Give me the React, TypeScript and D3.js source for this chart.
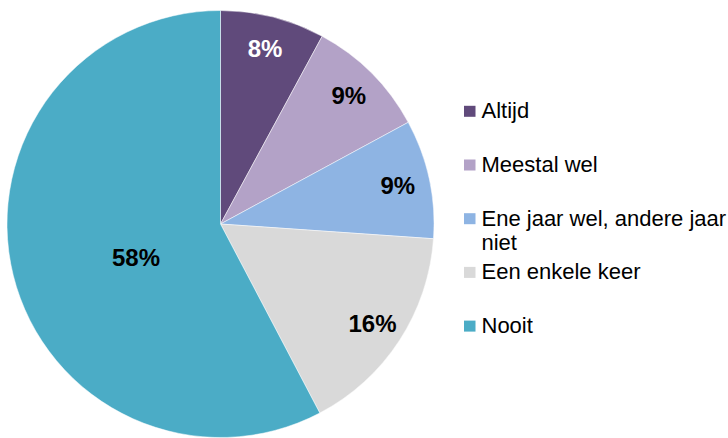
import React from "react";
import * as d3 from "d3";

const categories = ["Altijd", "Meestal wel", "Ene jaar wel, andere jaar niet", "Een enkele keer", "Nooit"];
const legendLines = [["Altijd"], ["Meestal wel"], ["Ene jaar wel, andere jaar", "niet"], ["Een enkele keer"], ["Nooit"]];
const values = [7.9, 9.2, 9.0, 16.2, 57.7];
const labels = ["8%", "9%", "9%", "16%", "58%"];
const colors = ["#604A7B", "#B3A2C7", "#8EB4E3", "#D9D9D9", "#4BACC6"];
const labelColors = ["#FFFFFF", "#000000", "#000000", "#000000", "#000000"];

const W = 728;
const H = 438;
const cx = 220.5;
const cy = 224;
const R = 213.5;
const FONT = "'Liberation Sans', Arial, sans-serif";

export default function App() {
  const pie = d3.pie<number>().sort(null).value((d) => d)(values);
  const arc = d3.arc<d3.PieArcDatum<number>>().innerRadius(0).outerRadius(R);

  const legendX = 464;
  const legendTextX = 481.5;
  const legendY0 = 118.3;
  const legendStep = 53.7;

  return (
    <svg width={W} height={H} style={{ position: "absolute", left: 0, top: 0 }} fontFamily={FONT}>
      <rect width={W} height={H} fill="#fff" />
      <g transform={`translate(${cx},${cy})`}>
        {pie.map((p, i) => (
          <path key={categories[i]} d={arc(p) || ""} fill={colors[i]} stroke="#fff" strokeWidth={0.5} />
        ))}
        {pie.map((p, i) => {
          const big = p.value > 50;
          const mid = (p.startAngle + p.endAngle) / 2 - (big ? 0.13 : 0);
          const rr = big ? R * 0.425 : R * 0.85;
          const x = Math.sin(mid) * rr;
          const y = -Math.cos(mid) * rr;
          return (
            <text
              key={"l" + i}
              x={x}
              y={y}
              dy="0.36em"
              textAnchor="middle"
              fontSize={24}
              fontWeight="bold"
              fill={labelColors[i]}
            >
              {labels[i]}
            </text>
          );
        })}
      </g>
      <g>
        {legendLines.map((lines, i) => {
          const by = legendY0 + i * legendStep;
          return (
            <g key={"lg" + i}>
              <rect x={legendX} y={by - 12.5} width={11.5} height={11} fill={colors[i]} />
              {lines.map((t, j) => (
                <text key={j} x={legendTextX} y={by + j * 24.5} fontSize={22} fill="#000">
                  {t}
                </text>
              ))}
            </g>
          );
        })}
      </g>
    </svg>
  );
}
